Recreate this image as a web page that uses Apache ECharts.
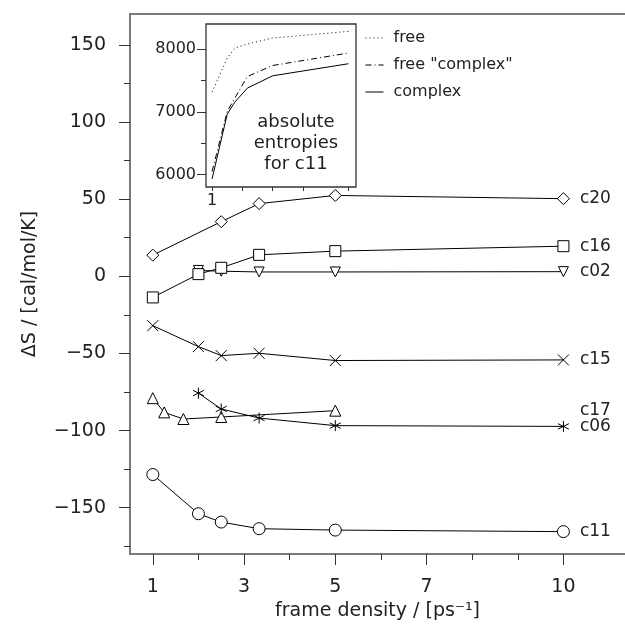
<!DOCTYPE html>
<html>
<head>
<meta charset="utf-8">
<script src="https://cdn.jsdelivr.net/npm/echarts@6/dist/echarts.min.js"></script>
<style>
html,body{margin:0;padding:0;background:#fff;}
#chart{width:625px;height:635px;}
</style>
</head>
<body>
<div id="chart"></div>
<script>
// ---------- data ----------
const yTickLabels = [-150, -100, -50, 0, 50, 100, 150];
const yMinorTicks = [-175, -125, -75, -25, 25, 75, 125];
const xTickLabels = [1, 3, 5, 7, 10];
const xMinorTicks = [2, 4, 6, 8, 9];

const c20X = [1, 2.5, 3.33, 5, 10];
const c20Y = [13.7, 35.4, 47.1, 52.4, 50.3];
const c16X = [1, 2, 2.5, 3.33, 5, 10];
const c16Y = [-13.7, 1.4, 5.5, 13.9, 16.3, 19.5];
const c02X = [2, 2.5, 3.33, 5, 10];
const c02Y = [3.8, 3.3, 2.8, 2.8, 3.0];
const c15X = [1, 2, 2.5, 3.33, 5, 10];
const c15Y = [-32.0, -45.6, -51.4, -49.9, -54.6, -54.2];
const c17X = [1, 1.25, 1.67, 2.5, 5];
const c17Y = [-79.0, -88.2, -92.5, -91.2, -87.1];
const c06X = [2, 2.5, 3.33, 5, 10];
const c06Y = [-75.7, -86.0, -91.9, -96.8, -97.3];
const c11X = [1, 2, 2.5, 3.33, 5, 10];
const c11Y = [-128.5, -153.9, -159.3, -163.6, -164.5, -165.5];

const insetX = [1, 2, 2.5, 3.33, 5, 10];
const insetFree = [7313, 7857, 8017, 8080, 8176, 8282];
const insetFreeComplex = [6045, 7003, 7218, 7563, 7738, 7937];
const insetComplex = [5928, 6962, 7154, 7377, 7574, 7766];
const insetYTickLabels = [6000, 7000, 8000];
const insetYMinor = [6500, 7500];
const insetXTicks = [1, 3, 5, 7, 10];
const insetXLabels = [1];
const insetNames = ['free', 'free "complex"', 'complex'];

// ---------- helpers ----------
const FONT = 'DejaVu Sans';
const TXT = '#222';
const AX = '#7a7a7a';
const zip = (xs, ys) => xs.map((x, i) => [x, ys[i]]);
const labelCol = 10;

function mainSeries(name, xs, ys, symbol, size, rotate) {
  return {
    name: name,
    type: 'line',
    xAxisIndex: 0,
    yAxisIndex: 0,
    data: zip(xs, ys),
    symbol: symbol,
    symbolSize: size,
    symbolRotate: rotate || 0,
    showAllSymbol: true,
    lineStyle: {color: '#000', width: 1},
    itemStyle: {color: '#fff', borderColor: '#000', borderWidth: 1},
    emphasis: {disabled: true},
    z: 3,
    markPoint: {
      symbol: 'circle',
      symbolSize: 1,
      itemStyle: {color: 'rgba(0,0,0,0)'},
      label: {
        show: true, position: 'right', distance: 16,
        formatter: name, color: TXT, fontFamily: FONT, fontSize: 17
      },
      data: [{coord: [labelCol, ys[ys.length - 1]]}]
    }
  };
}

const xMin = 0.5, xMax = 11.35, yMin = -180, yMax = 170;

const option = {
  animation: false,
  backgroundColor: '#fff',
  textStyle: {fontFamily: FONT, color: TXT},
  grid: [
    {left: 130, top: 14, width: 495, height: 540, show: false},
    {left: 206, top: 24, width: 150, height: 163, show: true,
     backgroundColor: '#fff', borderColor: '#333', borderWidth: 1.3, z: 5}
  ],
  legend: {
    show: true,
    data: insetNames,
    orient: 'vertical',
    left: 360, top: 25,
    itemWidth: 18, itemHeight: 12, itemGap: 11,
    itemStyle: {color: 'rgba(0,0,0,0)', borderWidth: 0, opacity: 0},
    lineStyle: {width: 1},
    textStyle: {fontFamily: FONT, fontSize: 16, color: TXT, padding: [0, 0, 0, 5]},
    selectedMode: false,
    z: 20
  },
  xAxis: [
    { // main, major ticks + labels
      type: 'value', gridIndex: 0, min: xMin, max: xMax, position: 'bottom',
      name: 'frame density / [ps\u207B\u00B9]', nameLocation: 'middle', nameGap: 41,
      nameTextStyle: {fontFamily: FONT, fontSize: 19, color: TXT},
      axisLine: {show: true, onZero: false, lineStyle: {color: AX, width: 2}},
      axisTick: {show: true, inside: false, length: 11, customValues: xTickLabels,
                 lineStyle: {color: '#333', width: 1}},
      axisLabel: {show: true, margin: 24, customValues: xTickLabels,
                  fontFamily: FONT, fontSize: 19, color: TXT},
      splitLine: {show: false}
    },
    { // main minor ticks
      type: 'value', gridIndex: 0, min: xMin, max: xMax, position: 'bottom',
      axisLine: {show: false, onZero: false},
      axisTick: {show: true, length: 6, customValues: xMinorTicks,
                 lineStyle: {color: '#333', width: 1}},
      axisLabel: {show: false}, splitLine: {show: false}
    },
    { // main top frame line
      type: 'value', gridIndex: 0, min: xMin, max: xMax, position: 'top',
      axisLine: {show: true, onZero: false, lineStyle: {color: AX, width: 2}},
      axisTick: {show: false}, axisLabel: {show: false}, splitLine: {show: false}
    },
    { // inset
      type: 'value', gridIndex: 1, min: 0.6, max: 10.5, position: 'bottom',
      axisLine: {show: false, onZero: false},
      axisTick: {show: true, length: 4, customValues: insetXTicks,
                 lineStyle: {color: '#333', width: 1}},
      axisLabel: {show: true, margin: 6, customValues: insetXLabels,
                  fontFamily: FONT, fontSize: 16, color: TXT},
      splitLine: {show: false}, z: 6
    }
  ],
  yAxis: [
    { // main major
      type: 'value', gridIndex: 0, min: yMin, max: yMax, position: 'left',
      name: '\u0394S / [cal/mol/K]', nameLocation: 'middle', nameGap: 90,
      nameTextStyle: {fontFamily: FONT, fontSize: 19, color: TXT},
      axisLine: {show: true, onZero: false, lineStyle: {color: AX, width: 2}},
      axisTick: {show: true, length: 11, customValues: yTickLabels,
                 lineStyle: {color: '#333', width: 1}},
      axisLabel: {show: true, margin: 24, customValues: yTickLabels,
                  fontFamily: FONT, fontSize: 19, color: TXT,
                  formatter: v => (v < 0 ? '\u2212' + Math.abs(v) : String(v))},
      splitLine: {show: false}
    },
    { // main minor
      type: 'value', gridIndex: 0, min: yMin, max: yMax, position: 'left',
      axisLine: {show: false, onZero: false},
      axisTick: {show: true, length: 6, customValues: yMinorTicks,
                 lineStyle: {color: '#333', width: 1}},
      axisLabel: {show: false}, splitLine: {show: false}
    },
    { // inset major
      type: 'value', gridIndex: 1, min: 5800, max: 8400, position: 'left',
      axisLine: {show: false, onZero: false},
      axisTick: {show: true, length: 9, customValues: insetYTickLabels,
                 lineStyle: {color: '#333', width: 1}},
      axisLabel: {show: true, margin: 10, customValues: insetYTickLabels,
                  fontFamily: FONT, fontSize: 16, color: TXT,
                  formatter: v => String(v)},
      splitLine: {show: false}, z: 6
    },
    { // inset minor
      type: 'value', gridIndex: 1, min: 5800, max: 8400, position: 'left',
      axisLine: {show: false, onZero: false},
      axisTick: {show: true, length: 5, customValues: insetYMinor,
                 lineStyle: {color: '#333', width: 1}},
      axisLabel: {show: false}, splitLine: {show: false}, z: 6
    }
  ],
  graphic: [{
    type: 'text', z: 20,
    style: {
      text: 'absolute\nentropies\nfor c11',
      x: 296, y: 143, align: 'center', verticalAlign: 'middle',
      font: '18px "DejaVu Sans"', fill: TXT, lineHeight: 21
    }
  }],
  series: [
    mainSeries('c20', c20X, c20Y, 'diamond', 12),
    mainSeries('c02', c02X, c02Y, 'triangle', 10, 180),
    mainSeries('c16', c16X, c16Y, 'rect', 11),
    mainSeries('c15', c15X, c15Y, 'path://M0,0L10,10M10,0L0,10', 11),
    mainSeries('c17', c17X, c17Y, 'triangle', 11),
    mainSeries('c06', c06X, c06Y, 'path://M5,0L5,10M0.7,2.5L9.3,7.5M0.7,7.5L9.3,2.5', 11),
    mainSeries('c11', c11X, c11Y, 'circle', 12),
    {
      name: insetNames[0], type: 'line', xAxisIndex: 3, yAxisIndex: 2,
      data: zip(insetX, insetFree), symbol: 'none', z: 10,
      itemStyle: {color: '#000'},
      lineStyle: {color: '#000', width: 1, type: [1, 3]}
    },
    {
      name: insetNames[1], type: 'line', xAxisIndex: 3, yAxisIndex: 2,
      data: zip(insetX, insetFreeComplex), symbol: 'none', z: 10,
      itemStyle: {color: '#000'},
      lineStyle: {color: '#000', width: 1, type: [6, 3, 1, 3]}
    },
    {
      name: insetNames[2], type: 'line', xAxisIndex: 3, yAxisIndex: 2,
      data: zip(insetX, insetComplex), symbol: 'none', z: 10,
      itemStyle: {color: '#000'},
      lineStyle: {color: '#000', width: 1}
    }
  ]
};

const chart = echarts.init(document.getElementById('chart'), null, {renderer: 'canvas'});
chart.setOption(option);
</script>
</body>
</html>
